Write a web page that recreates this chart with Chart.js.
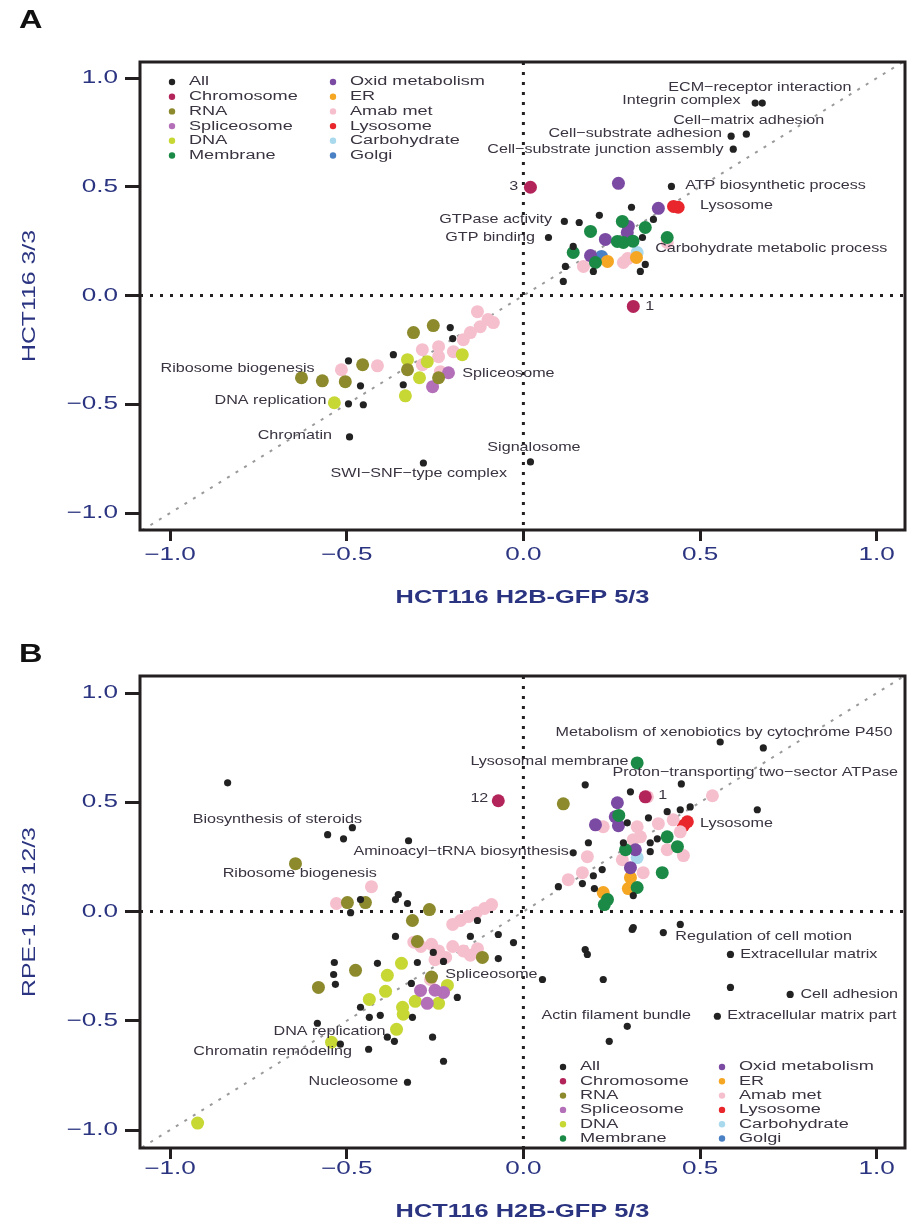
<!DOCTYPE html>
<html>
<head>
<meta charset="utf-8">
<script src="https://cdn.jsdelivr.net/npm/chart.js@4.4.1/dist/chart.umd.min.js"></script>
<style>
  body { margin: 0; background: #fff; }
  canvas { display: block; }
</style>
</head>
<body>
<canvas id="panelA" width="915" height="625"></canvas>
<canvas id="panelB" width="915" height="597"></canvas>
<script>
// gene-set categories and their colours
const categories = ['All', 'Chromosome', 'RNA', 'Spliceosome', 'DNA', 'Membrane',
  'Oxid metabolism', 'ER', 'Amab met', 'Lysosome', 'Carbohydrate', 'Golgi'];
const catColors = ['#222222', '#b3245a', '#8c8a2c', '#b36fb8', '#c7d734', '#1b8a46',
  '#7b4aa3', '#f5a623', '#f6bfcd', '#e8262b', '#a9d9ec', '#4a80c4'];

const tickValues = [-1, -0.5, 0, 0.5, 1];

// ---- panel A: HCT116 H2B-GFP 5/3 vs HCT116 3/3 ----
const aAll = [[0.656, 0.885], [0.676, 0.885], [0.631, 0.742], [0.588, 0.733], [0.594, 0.673],
  [0.419, 0.502], [0.306, 0.406], [0.368, 0.35], [0.116, 0.341], [0.158, 0.336], [0.215, 0.369],
  [0.071, 0.267], [0.337, 0.267], [0.141, 0.226], [0.119, 0.134], [0.198, 0.111], [0.345, 0.143],
  [0.331, 0.111], [0.113, 0.065], [-0.207, -0.147], [-0.2, -0.198], [-0.368, -0.272],
  [-0.495, -0.3], [-0.34, -0.41], [-0.461, -0.415], [-0.495, -0.498], [-0.453, -0.502],
  [-0.492, -0.65], [-0.283, -0.77], [0.02, -0.765]];
const aChromosome = [[0.02, 0.498], [0.311, -0.05]];
const aRNA = [[-0.255, -0.138], [-0.311, -0.17], [-0.455, -0.318], [-0.328, -0.341],
  [-0.24, -0.378], [-0.628, -0.378], [-0.569, -0.392], [-0.504, -0.396]];
const aSpliceosome = [[-0.212, -0.355], [-0.257, -0.419]];
const aDNA = [[-0.328, -0.295], [-0.272, -0.304], [-0.173, -0.272], [-0.294, -0.378],
  [-0.334, -0.461], [-0.535, -0.493]];
const aMembrane = [[0.19, 0.295], [0.28, 0.341], [0.345, 0.313], [0.283, 0.244], [0.266, 0.249],
  [0.407, 0.267], [0.141, 0.198], [0.204, 0.152], [0.31, 0.25]];
const aOxid = [[0.269, 0.516], [0.382, 0.401], [0.297, 0.318], [0.294, 0.29], [0.232, 0.258],
  [0.19, 0.184]];
const aER = [[0.238, 0.157], [0.32, 0.175]];
const aAmab = [[0.407, 0.244], [0.283, 0.152], [0.17, 0.134], [0.295, 0.17], [-0.13, -0.074],
  [-0.085, -0.124], [-0.122, -0.143], [-0.17, -0.203], [-0.24, -0.235], [-0.286, -0.249],
  [-0.198, -0.258], [-0.24, -0.281], [-0.413, -0.323], [-0.515, -0.341], [-0.286, -0.318],
  [-0.235, -0.35], [-0.15, -0.17], [-0.1, -0.11]];
const aLysosome = [[0.438, 0.406], [0.425, 0.41]];
const aCarbohydrate = [[0.322, 0.198]];
const aGolgi = [[0.221, 0.18]];

const aNoteText = ['ECM\u2212receptor interaction', 'Integrin complex', 'Cell\u2212matrix adhesion',
  'Cell\u2212substrate adhesion', 'Cell\u2212substrate junction assembly', 'ATP biosynthetic process',
  '3', 'Lysosome', 'GTPase activity', 'GTP binding', 'Carbohydrate metabolic process', '1',
  'Ribosome biogenesis', 'Spliceosome', 'DNA replication', 'Chromatin', 'Signalosome',
  'SWI\u2212SNF\u2212type complex'];
const aNoteX = [0.41, 0.28, 0.424, 0.071, -0.102, 0.458, -0.04, 0.5, -0.238, -0.221, 0.373,
  0.345, -1.027, -0.173, -0.874, -0.752, -0.102, -0.546];
const aNoteY = [0.959, 0.899, 0.806, 0.747, 0.673, 0.507, 0.502, 0.415, 0.35, 0.267, 0.217,
  -0.05, -0.336, -0.359, -0.484, -0.645, -0.696, -0.816];

// ---- panel B: HCT116 H2B-GFP 5/3 vs RPE-1 5/3 12/3 ----
const bAll = [[0.557, 0.776], [0.679, 0.749], [0.447, 0.584], [0.175, 0.58], [0.303, 0.548],
  [0.472, 0.479], [0.444, 0.466], [0.662, 0.466], [0.407, 0.457], [0.294, 0.406], [0.354, 0.429],
  [0.379, 0.333], [0.283, 0.315], [0.359, 0.315], [0.359, 0.274], [0.184, 0.315], [0.141, 0.269],
  [0.223, 0.192], [0.198, 0.164], [0.311, 0.073], [0.167, 0.128], [0.099, 0.114], [0.201, 0.105],
  [0.444, -0.059], [0.311, -0.073], [0.308, -0.082], [0.396, -0.096], [0.175, -0.174],
  [0.181, -0.196], [0.586, -0.196], [0.226, -0.311], [0.054, -0.311], [0.586, -0.347],
  [0.755, -0.379], [0.549, -0.479], [0.294, -0.525], [0.243, -0.594], [-0.028, -0.142],
  [-0.071, -0.105], [-0.071, -0.215], [-0.187, -0.393], [-0.257, -0.575], [-0.226, -0.685],
  [-0.328, -0.781], [-0.837, 0.589], [-0.484, 0.384], [-0.554, 0.352], [-0.509, 0.333],
  [-0.325, 0.324], [-0.489, -0.005], [-0.461, 0.055], [-0.354, 0.078], [-0.362, 0.055],
  [-0.328, 0.037], [-0.13, -0.041], [-0.362, -0.114], [-0.15, -0.114], [-0.255, -0.187],
  [-0.226, -0.228], [-0.535, -0.233], [-0.413, -0.237], [-0.537, -0.288], [-0.3, -0.233],
  [-0.532, -0.333], [-0.317, -0.329], [-0.461, -0.438], [-0.436, -0.484], [-0.405, -0.475],
  [-0.314, -0.484], [-0.583, -0.511], [-0.385, -0.575], [-0.365, -0.594], [-0.518, -0.607],
  [-0.438, -0.63]];
const bChromosome = [[-0.071, 0.507], [0.345, 0.525]];
const bRNA = [[0.113, 0.493], [-0.645, 0.219], [-0.498, 0.041], [-0.447, 0.041], [-0.266, 0.009],
  [-0.314, -0.041], [-0.116, -0.21], [-0.3, -0.137], [-0.475, -0.269], [-0.58, -0.347],
  [-0.26, -0.3]];
const bSpliceosome = [[-0.291, -0.361], [-0.226, -0.37], [-0.272, -0.42], [-0.25, -0.36]];
const bDNA = [[-0.345, -0.237], [-0.385, -0.292], [-0.39, -0.365], [-0.215, -0.338],
  [-0.436, -0.402], [-0.306, -0.411], [-0.24, -0.42], [-0.342, -0.438], [-0.34, -0.47],
  [-0.359, -0.539], [-0.543, -0.598], [-0.922, -0.968]];
const bMembrane = [[0.322, 0.68], [0.407, 0.342], [0.436, 0.297], [0.289, 0.283], [0.393, 0.178],
  [0.322, 0.11], [0.238, 0.055], [0.229, 0.032], [0.27, 0.44]];
const bOxid = [[0.266, 0.498], [0.26, 0.434], [0.269, 0.393], [0.204, 0.397], [0.317, 0.283],
  [0.303, 0.201]];
const bER = [[0.303, 0.155], [0.297, 0.105], [0.226, 0.087]];
const bAmab = [[0.351, 0.525], [0.535, 0.53], [0.226, 0.388], [0.322, 0.388], [0.382, 0.402],
  [0.424, 0.42], [0.444, 0.365], [0.331, 0.342], [0.311, 0.329], [0.407, 0.283], [0.453, 0.256],
  [0.28, 0.237], [0.181, 0.251], [0.339, 0.178], [0.167, 0.178], [0.127, 0.146], [-0.43, 0.114],
  [-0.529, 0.037], [-0.2, -0.059], [-0.178, -0.041], [-0.156, -0.023], [-0.133, -0.005],
  [-0.11, 0.014], [-0.09, 0.032], [-0.31, -0.14], [-0.29, -0.16], [-0.26, -0.15], [-0.24, -0.18],
  [-0.2, -0.16], [-0.17, -0.18], [-0.15, -0.2], [-0.13, -0.17], [-0.22, -0.21], [-0.25, -0.22],
  [-0.263, -0.311]];
const bLysosome = [[0.464, 0.411], [0.453, 0.393]];
const bCarbohydrate = [[0.322, 0.247]];
const bGolgi = [];

const bNoteText = ['Metabolism of xenobiotics by cytochrome P450', 'Lysosomal membrane',
  'Proton\u2212transporting two\u2212sector ATPase', '12', '1', 'Biosynthesis of steroids', 'Lysosome',
  'Aminoacyl\u2212tRNA biosynthesis', 'Ribosome biogenesis', 'Regulation of cell motion',
  'Extracellular matrix', 'Spliceosome', 'Cell adhesion', 'Actin filament bundle',
  'Extracellular matrix part', 'DNA replication', 'Chromatin remodeling', 'Nucleosome'];
const bNoteX = [0.091, -0.15, 0.252, -0.15, 0.382, -0.936, 0.5, -0.481, -0.851, 0.43, 0.614,
  -0.221, 0.784, 0.051, 0.577, -0.707, -0.934, -0.608];
const bNoteY = [0.822, 0.689, 0.635, 0.516, 0.53, 0.42, 0.402, 0.274, 0.174, -0.114, -0.196,
  -0.288, -0.379, -0.475, -0.475, -0.548, -0.639, -0.776];

const INK = '#231f20';
const AXIS_BLUE = '#2b3480';
const TEXT_GREY = '#3a3340';
const FONT = '"Liberation Sans", Arial, Helvetica, sans-serif';

function fmtTick(v) {
  return (v < 0 ? '\u2212' : '') + Math.abs(v).toFixed(1);
}

// the figure's lettering is wide, so text is stretched along its baseline
function wideText(ctx, text, x, y, sx, align, rot) {
  ctx.save();
  ctx.translate(x, y);
  if (rot) ctx.rotate(rot);
  ctx.scale(sx, 1);
  ctx.textAlign = align;
  ctx.fillText(text, 0, 0);
  ctx.restore();
}

// zero lines, diagonal, frame, tick labels, axis titles, term labels, legend, panel letter
const panelDecor = {
  id: 'panelDecor',
  beforeDatasetsDraw(chart, args, opts) {
    const {ctx, chartArea: ca, scales: {x, y}} = chart;
    ctx.save();
    ctx.beginPath();
    ctx.rect(ca.left, ca.top, ca.right - ca.left, ca.bottom - ca.top);
    ctx.clip();
    // y = x reference
    ctx.strokeStyle = '#9a9a9a';
    ctx.lineWidth = 2;
    ctx.setLineDash([3, 7]);
    ctx.beginPath();
    ctx.moveTo(x.getPixelForValue(-1.2), y.getPixelForValue(-1.2));
    ctx.lineTo(x.getPixelForValue(1.2), y.getPixelForValue(1.2));
    ctx.stroke();
    // zero lines
    ctx.strokeStyle = INK;
    ctx.lineWidth = 3;
    ctx.setLineDash([3, 7]);
    ctx.beginPath();
    ctx.moveTo(ca.left, y.getPixelForValue(0));
    ctx.lineTo(ca.right, y.getPixelForValue(0));
    ctx.moveTo(x.getPixelForValue(0), ca.top);
    ctx.lineTo(x.getPixelForValue(0), ca.bottom);
    ctx.stroke();
    ctx.restore();
  },
  afterDatasetsDraw(chart, args, opts) {
    const {ctx, chartArea: ca, scales: {x, y}} = chart;
    ctx.save();
    // frame
    ctx.strokeStyle = INK;
    ctx.lineWidth = 3;
    ctx.setLineDash([]);
    ctx.strokeRect(ca.left, ca.top, ca.right - ca.left, ca.bottom - ca.top);

    // tick labels
    ctx.fillStyle = AXIS_BLUE;
    ctx.font = '18px ' + FONT;
    ctx.textBaseline = 'middle';
    tickValues.forEach(v => {
      wideText(ctx, fmtTick(v), x.getPixelForValue(v), ca.bottom + opts.xTickGap, 1.45, 'center');
      wideText(ctx, fmtTick(v), ca.left - 22, y.getPixelForValue(v), 1.45, 'right');
    });

    // axis titles
    ctx.font = 'bold 18px ' + FONT;
    wideText(ctx, opts.xTitle, (ca.left + ca.right) / 2, ca.bottom + opts.xTitleGap, 1.41, 'center');
    ctx.font = '18px ' + FONT;
    wideText(ctx, opts.yTitle, 30, (ca.top + ca.bottom) / 2, 1.38, 'center', -Math.PI / 2);

    // term labels
    ctx.font = '13px ' + FONT;
    ctx.fillStyle = TEXT_GREY;
    opts.noteText.forEach((t, i) => {
      wideText(ctx, t, x.getPixelForValue(opts.noteX[i]), y.getPixelForValue(opts.noteY[i]), 1.24, 'left');
    });

    // legend in two columns
    const lg = opts.legend;
    ctx.font = '12.5px ' + FONT;
    categories.forEach((c, i) => {
      const col = Math.floor(i / 6), row = i % 6;
      const mx = ca.left + lg.dx + col * lg.colGap;
      const my = ca.top + lg.dy + row * lg.rowGap;
      ctx.fillStyle = catColors[i];
      ctx.beginPath();
      ctx.arc(mx, my, 3.2, 0, Math.PI * 2);
      ctx.fill();
      ctx.fillStyle = TEXT_GREY;
      wideText(ctx, c, mx + 17, my, 1.45, 'left');
    });

    // panel letter
    ctx.fillStyle = '#111';
    ctx.font = 'bold 25px ' + FONT;
    wideText(ctx, opts.letter, 19, opts.letterY, 1.3, 'left');
    ctx.restore();
  }
};

function buildDatasets(series) {
  return categories.map((c, i) => ({
    label: c,
    data: series[i].map(p => ({x: p[0], y: p[1]})),
    backgroundColor: catColors[i],
    borderColor: catColors[i],
    borderWidth: 0,
    pointRadius: i === 0 ? 3.6 : 6.5,
    pointHoverRadius: i === 0 ? 3.6 : 6.5
  }));
}

function axis(min, max, tickLength, fit) {
  return {
    type: 'linear',
    min: min,
    max: max,
    afterBuildTicks: s => { s.ticks = tickValues.map(v => ({value: v})); },
    afterFit: fit,
    border: {display: false},
    grid: {drawOnChartArea: false, color: INK, lineWidth: 3, tickLength: tickLength},
    ticks: {display: false}
  };
}

function makePanel(id, series, notes, cfg) {
  return new Chart(document.getElementById(id), {
    type: 'scatter',
    data: {datasets: buildDatasets(series)},
    options: {
      responsive: false,
      animation: false,
      events: [],
      layout: {padding: {left: 0, right: 10, top: cfg.top, bottom: 0}},
      scales: {
        x: axis(-1.085, 1.08, 11, s => { s.height = cfg.xHeight; }),
        y: axis(cfg.yMin, cfg.yMax, 15, s => { s.width = 140; })
      },
      plugins: {
        legend: {display: false},
        tooltip: {enabled: false},
        panelDecor: Object.assign({
          letter: cfg.letter, letterY: cfg.letterY, legend: cfg.legend,
          xTitle: 'HCT116 H2B-GFP 5/3', yTitle: cfg.yTitle,
          xTickGap: cfg.xTickGap, xTitleGap: cfg.xTitleGap
        }, notes)
      }
    },
    plugins: [panelDecor]
  });
}

makePanel('panelA',
  [aAll, aChromosome, aRNA, aSpliceosome, aDNA, aMembrane, aOxid, aER, aAmab, aLysosome, aCarbohydrate, aGolgi],
  {noteText: aNoteText, noteX: aNoteX, noteY: aNoteY},
  {top: 62, xHeight: 95, xTickGap: 25, xTitleGap: 68, yMin: -1.078, yMax: 1.074,
   yTitle: 'HCT116 3/3', letter: 'A', letterY: 21,
   legend: {dx: 32, dy: 20, rowGap: 14.7, colGap: 161}});

makePanel('panelB',
  [bAll, bChromosome, bRNA, bSpliceosome, bDNA, bMembrane, bOxid, bER, bAmab, bLysosome, bCarbohydrate, bGolgi],
  {noteText: bNoteText, noteX: bNoteX, noteY: bNoteY},
  {top: 51, xHeight: 74, xTickGap: 21, xTitleGap: 64, yMin: -1.082, yMax: 1.078,
   yTitle: 'RPE-1 5/3 12/3', letter: 'B', letterY: 30,
   legend: {dx: 423, dy: 391, rowGap: 14.3, colGap: 159}});
</script>
</body>
</html>
